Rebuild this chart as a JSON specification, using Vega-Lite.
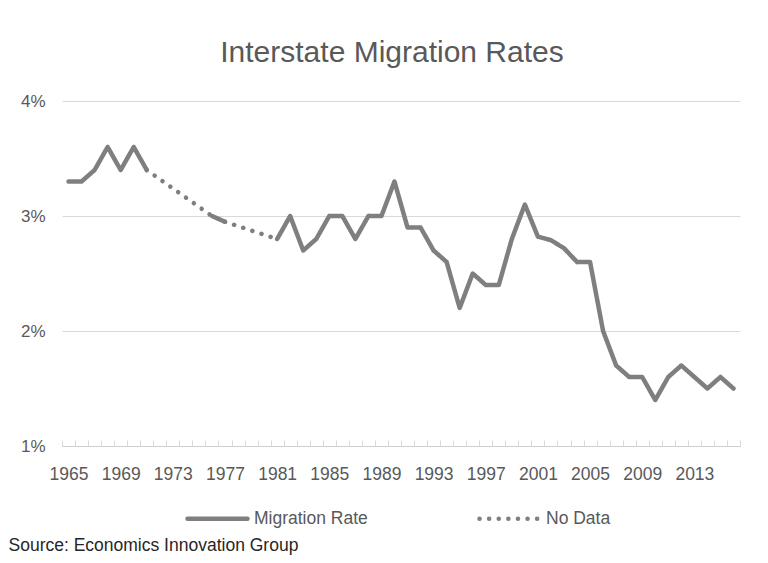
{
  "$schema": "https://vega.github.io/schema/vega-lite/v6.json",
  "width": 678,
  "height": 345,
  "autosize": {"type": "none"},
  "padding": {"left": 62, "top": 101, "right": 28, "bottom": 117},
  "background": "white",
  "config": {"view": {"stroke": null}},
  "title": {
    "text": "Interstate Migration Rates",
    "font": "Liberation Sans",
    "fontSize": 30,
    "fontWeight": "normal",
    "color": "#595959",
    "anchor": "middle",
    "dx": -9,
    "offset": 24
  },
  "data": {
    "values": [
      {"year": 1965, "rate": 3.3, "series": "Migration Rate", "seg": "a"},
      {"year": 1966, "rate": 3.3, "series": "Migration Rate", "seg": "a"},
      {"year": 1967, "rate": 3.4, "series": "Migration Rate", "seg": "a"},
      {"year": 1968, "rate": 3.6, "series": "Migration Rate", "seg": "a"},
      {"year": 1969, "rate": 3.4, "series": "Migration Rate", "seg": "a"},
      {"year": 1970, "rate": 3.6, "series": "Migration Rate", "seg": "a"},
      {"year": 1971, "rate": 3.4, "series": "Migration Rate", "seg": "a"},
      {"year": 1976, "rate": 3.0, "series": "Migration Rate", "seg": "b"},
      {"year": 1977, "rate": 2.95, "series": "Migration Rate", "seg": "b"},
      {"year": 1981, "rate": 2.8, "series": "Migration Rate", "seg": "c"},
      {"year": 1982, "rate": 3.0, "series": "Migration Rate", "seg": "c"},
      {"year": 1983, "rate": 2.7, "series": "Migration Rate", "seg": "c"},
      {"year": 1984, "rate": 2.8, "series": "Migration Rate", "seg": "c"},
      {"year": 1985, "rate": 3.0, "series": "Migration Rate", "seg": "c"},
      {"year": 1986, "rate": 3.0, "series": "Migration Rate", "seg": "c"},
      {"year": 1987, "rate": 2.8, "series": "Migration Rate", "seg": "c"},
      {"year": 1988, "rate": 3.0, "series": "Migration Rate", "seg": "c"},
      {"year": 1989, "rate": 3.0, "series": "Migration Rate", "seg": "c"},
      {"year": 1990, "rate": 3.3, "series": "Migration Rate", "seg": "c"},
      {"year": 1991, "rate": 2.9, "series": "Migration Rate", "seg": "c"},
      {"year": 1992, "rate": 2.9, "series": "Migration Rate", "seg": "c"},
      {"year": 1993, "rate": 2.7, "series": "Migration Rate", "seg": "c"},
      {"year": 1994, "rate": 2.6, "series": "Migration Rate", "seg": "c"},
      {"year": 1995, "rate": 2.2, "series": "Migration Rate", "seg": "c"},
      {"year": 1996, "rate": 2.5, "series": "Migration Rate", "seg": "c"},
      {"year": 1997, "rate": 2.4, "series": "Migration Rate", "seg": "c"},
      {"year": 1998, "rate": 2.4, "series": "Migration Rate", "seg": "c"},
      {"year": 1999, "rate": 2.8, "series": "Migration Rate", "seg": "c"},
      {"year": 2000, "rate": 3.1, "series": "Migration Rate", "seg": "c"},
      {"year": 2001, "rate": 2.82, "series": "Migration Rate", "seg": "c"},
      {"year": 2002, "rate": 2.79, "series": "Migration Rate", "seg": "c"},
      {"year": 2003, "rate": 2.72, "series": "Migration Rate", "seg": "c"},
      {"year": 2004, "rate": 2.6, "series": "Migration Rate", "seg": "c"},
      {"year": 2005, "rate": 2.6, "series": "Migration Rate", "seg": "c"},
      {"year": 2006, "rate": 2.0, "series": "Migration Rate", "seg": "c"},
      {"year": 2007, "rate": 1.7, "series": "Migration Rate", "seg": "c"},
      {"year": 2008, "rate": 1.6, "series": "Migration Rate", "seg": "c"},
      {"year": 2009, "rate": 1.6, "series": "Migration Rate", "seg": "c"},
      {"year": 2010, "rate": 1.4, "series": "Migration Rate", "seg": "c"},
      {"year": 2011, "rate": 1.6, "series": "Migration Rate", "seg": "c"},
      {"year": 2012, "rate": 1.7, "series": "Migration Rate", "seg": "c"},
      {"year": 2013, "rate": 1.6, "series": "Migration Rate", "seg": "c"},
      {"year": 2014, "rate": 1.5, "series": "Migration Rate", "seg": "c"},
      {"year": 2015, "rate": 1.6, "series": "Migration Rate", "seg": "c"},
      {"year": 2016, "rate": 1.5, "series": "Migration Rate", "seg": "c"},
      {"year": 1971, "rate": 3.4, "series": "No Data", "seg": "d"},
      {"year": 1976, "rate": 3.0, "series": "No Data", "seg": "d"},
      {"year": 1977, "rate": 2.95, "series": "No Data", "seg": "e"},
      {"year": 1981, "rate": 2.8, "series": "No Data", "seg": "e"}
    ]
  },
  "mark": {"type": "line", "strokeWidth": 4.5, "strokeCap": "round", "strokeJoin": "round"},
  "encoding": {
    "x": {
      "field": "year",
      "type": "quantitative",
      "scale": {"domain": [1964.5, 2016.5], "nice": false, "zero": false},
      "axis": {
        "values": [1964.5, 1965, 1965.5, 1966.5, 1967.5, 1968.5, 1969, 1969.5, 1970.5, 1971.5, 1972.5, 1973, 1973.5, 1974.5, 1975.5, 1976.5, 1977, 1977.5, 1978.5, 1979.5, 1980.5, 1981, 1981.5, 1982.5, 1983.5, 1984.5, 1985, 1985.5, 1986.5, 1987.5, 1988.5, 1989, 1989.5, 1990.5, 1991.5, 1992.5, 1993, 1993.5, 1994.5, 1995.5, 1996.5, 1997, 1997.5, 1998.5, 1999.5, 2000.5, 2001, 2001.5, 2002.5, 2003.5, 2004.5, 2005, 2005.5, 2006.5, 2007.5, 2008.5, 2009, 2009.5, 2010.5, 2011.5, 2012.5, 2013, 2013.5, 2014.5, 2015.5, 2016.5],
        "labelExpr": "datum.value % 1 == 0 ? '' + datum.value : ''",
        "labelOverlap": false,
        "labelFlush": false,
        "grid": false,
        "domainColor": "#cfcfcf",
        "tickColor": "#d9d9d9",
        "tickSize": -6,
        "tickOpacity": {"expr": "datum.value % 1 == 0 ? 0 : 1"},
        "labelPadding": 25,
        "labelFont": "Liberation Sans",
        "labelFontSize": 17.5,
        "labelColor": "#595959",
        "title": "Source: Economics Innovation Group",
        "titleFont": "Liberation Sans",
        "titleFontSize": 17.5,
        "titleFontWeight": "normal",
        "titleColor": "#262626",
        "titleAlign": "left",
        "titleAnchor": "start",
        "titleBaseline": "alphabetic",
        "titleX": -54,
        "titleY": 104
      }
    },
    "y": {
      "field": "rate",
      "type": "quantitative",
      "scale": {"domain": [1, 4], "nice": false, "zero": false},
      "axis": {
        "values": [1, 2, 3, 4],
        "labelExpr": "datum.value + '%'",
        "domain": false,
        "ticks": false,
        "grid": true,
        "gridColor": "#d9d9d9",
        "labelPadding": 17,
        "labelFont": "Liberation Sans",
        "labelFontSize": 17,
        "labelColor": "#595959",
        "title": null
      }
    },
    "color": {
      "field": "series",
      "type": "nominal",
      "scale": {"domain": ["Migration Rate", "No Data"], "range": ["#7f7f7f", "#7f7f7f"]},
      "legend": {
        "orient": "none",
        "legendX": 123,
        "legendY": 385,
        "direction": "horizontal",
        "title": null,
        "padding": 0,
        "symbolType": "stroke",
        "symbolSize": 3600,
        "symbolStrokeWidth": 4.5,
        "symbolOffset": 0,
        "labelOffset": 4,
        "columnPadding": 102,
        "labelFont": "Liberation Sans",
        "labelFontSize": 17.5,
        "labelColor": "#595959",
        "encode": {"symbols": {"update": {"strokeCap": {"value": "round"}}}}
      }
    },
    "strokeDash": {
      "field": "series",
      "type": "nominal",
      "scale": {"domain": ["Migration Rate", "No Data"], "range": [[1, 0], [0.1, 9.5]]},
      "legend": null
    },
    "detail": {"field": "seg", "type": "nominal"}
  }
}
